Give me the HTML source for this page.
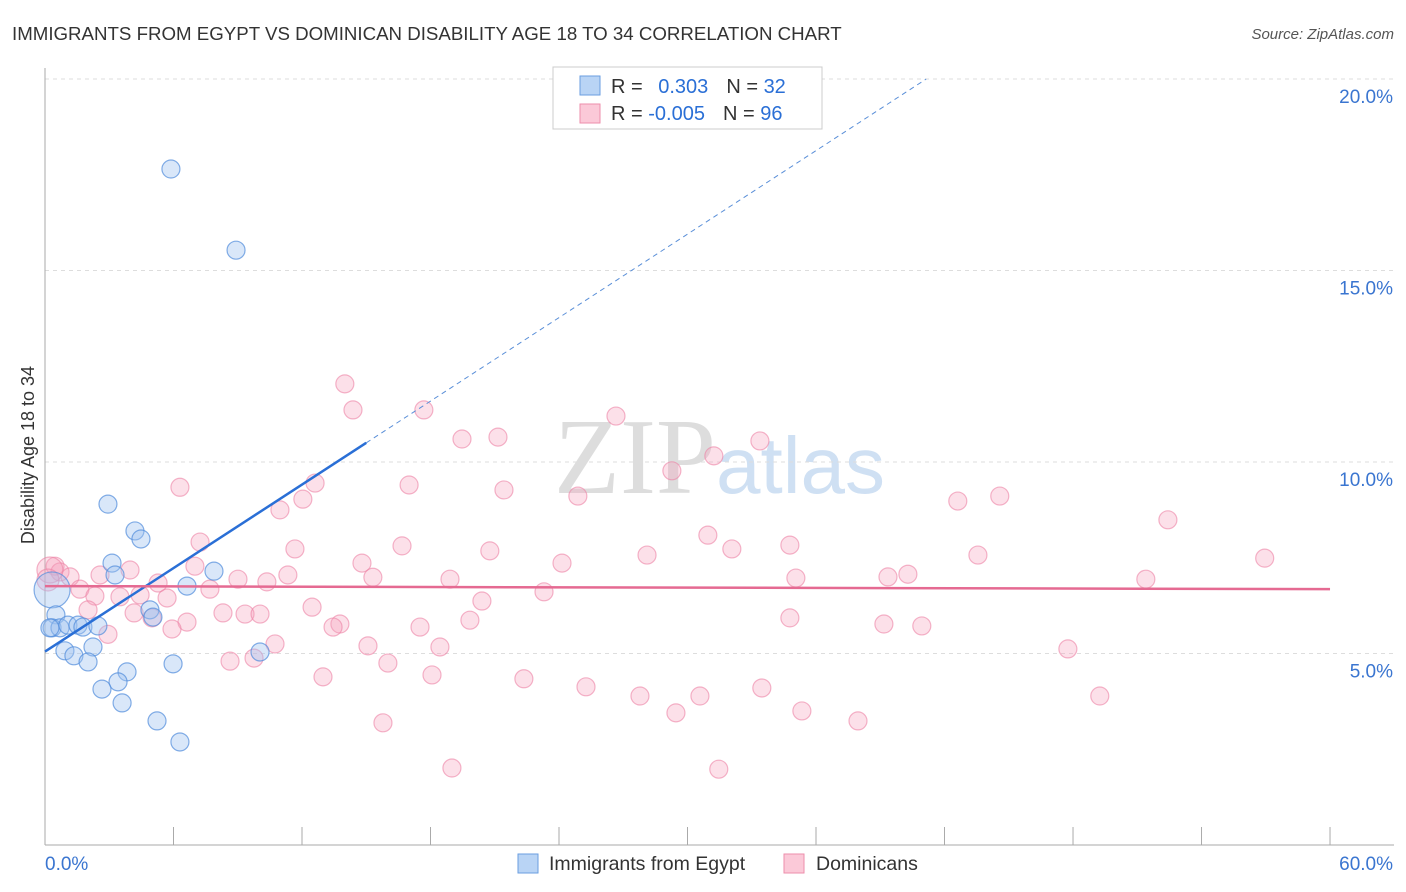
<!DOCTYPE html>
<html><head><meta charset="utf-8"><style>
body{margin:0;background:#fff;font-family:"Liberation Sans",sans-serif;}
#wrap{position:relative;width:1406px;height:892px;overflow:hidden}
</style></head><body>
<div id="wrap">
<svg id="svg" width="1406" height="892" xmlns="http://www.w3.org/2000/svg">
<text x="12" y="40" font-size="18.7" fill="#333">IMMIGRANTS FROM EGYPT VS DOMINICAN DISABILITY AGE 18 TO 34 CORRELATION CHART</text>
<text x="1394" y="39" font-size="15" fill="#555" font-style="italic" text-anchor="end">Source: ZipAtlas.com</text>
<text x="716" y="493" font-size="108" fill="#ddd" text-anchor="end" font-family="Liberation Serif">ZIP</text>
<text x="716" y="493" font-size="80" fill="#cfe0f3">atlas</text>
<text x="34" y="455" font-size="18" fill="#333" text-anchor="middle" transform="rotate(-90 34 455)">Disability Age 18 to 34</text>
<g id="grid"></g><g id="pts"></g><g id="lines"></g>
<g>
<rect x="553" y="67" width="269" height="62" fill="#fff" stroke="#ccc"/>
<rect x="580" y="76" width="20" height="19" fill="#b9d4f5" stroke="#6a9ee0"/>
<rect x="580" y="104" width="20" height="19" fill="#fbc9d8" stroke="#ee8eab"/>
<text x="611" y="93" font-size="20" fill="#333">R =  <tspan fill="#2a6fd6" dx="10">0.303</tspan><tspan dx="18" fill="#333">N = </tspan><tspan fill="#2a6fd6">32</tspan></text>
<text x="611" y="120" font-size="20" fill="#333">R = <tspan fill="#2a6fd6">-0.005</tspan><tspan dx="18" fill="#333">N = </tspan><tspan fill="#2a6fd6">96</tspan></text>
</g>
<g>
<rect x="518" y="854" width="20" height="19" fill="#b9d4f5" stroke="#6a9ee0"/>
<text x="549" y="870" font-size="19.5" fill="#333">Immigrants from Egypt</text>
<rect x="784" y="854" width="20" height="19" fill="#fbc9d8" stroke="#ee8eab"/>
<text x="816" y="870" font-size="19.5" fill="#333">Dominicans</text>
</g>
</svg></div>
<script>
const yTicks=[5,10,15,20];
const xTickLabels=["0.0%","60.0%"];
const egyptX=[5.88,8.92,2.94,4.2,4.48,3.13,3.27,7.89,6.63,0.33,0.51,4.9,5.04,0.33,0.7,1.07,1.54,1.77,2.47,2.24,0.93,1.35,2.01,5.98,10.04,3.83,3.41,2.66,3.6,5.23,6.3,0.23];
const egyptY=[17.65,15.53,8.9,8.2,7.99,7.36,7.05,7.15,6.76,6.66,6.01,6.14,5.95,5.67,5.67,5.74,5.74,5.69,5.72,5.17,5.07,4.94,4.78,4.73,5.04,4.52,4.26,4.07,3.71,3.24,2.69,5.67];
const domX=[14.0,14.38,17.69,26.66,19.47,21.15,33.38,31.23,29.27,6.3,17.0,12.61,21.43,24.88,42.62,44.58,10.97,12.04,52.43,30.95,7.24,16.67,11.67,20.77,32.07,34.78,43.56,28.11,24.14,56.95,14.8,7.0,15.31,18.91,11.34,35.06,39.36,40.29,51.4,0.47,0.7,1.17,3.97,2.57,5.28,9.01,10.36,1.63,2.33,3.5,4.44,5.7,7.7,20.4,23.3,12.47,4.16,5.0,8.31,9.34,10.04,2.01,19.84,13.77,13.45,6.63,5.93,17.51,2.94,34.78,39.17,40.94,10.74,15.08,18.44,47.76,8.64,9.76,16.01,12.98,18.07,22.36,25.26,27.78,30.58,33.47,49.25,29.46,35.34,37.96,15.78,19.0,31.46,0.23,0.14];
const domY=[12.04,11.36,11.36,11.2,10.6,10.65,10.55,10.16,9.77,9.34,9.4,9.45,9.27,9.11,8.98,9.11,8.75,9.03,8.49,8.09,7.91,7.81,7.73,7.68,7.73,7.83,7.57,7.57,7.36,7.49,7.36,7.28,6.99,6.94,7.05,6.97,7.0,7.07,6.94,7.28,7.13,7.0,7.18,7.05,6.84,6.94,6.87,6.68,6.5,6.48,6.53,6.45,6.68,6.37,6.61,6.21,6.06,5.93,6.06,6.03,6.03,6.14,5.87,5.77,5.69,5.82,5.64,5.69,5.5,5.93,5.77,5.72,5.25,5.2,5.17,5.12,4.8,4.88,4.75,4.39,4.44,4.34,4.13,3.89,3.89,4.1,3.89,3.45,3.5,3.24,3.19,2.01,1.98,7.18,6.92];
const egyptTrend=[0,5.05,15,10.5];
const domTrend=[0,6.76,60,6.68];
const X=v=>45+v*21.417, Y=v=>845-v*38.3;
const NS="http://www.w3.org/2000/svg";
function mk(p,t,a){const e=document.createElementNS(NS,t);for(const k in a)e.setAttribute(k,a[k]);p.appendChild(e);return e;}
const g=document.getElementById('grid');
yTicks.forEach(v=>{
 const l=mk(g,'line',{x1:45,x2:1394,y1:Y(v),y2:Y(v),stroke:'#ddd','stroke-dasharray':'4,4'});
 
 const t=mk(g,'text',{x:1393,y:Y(v)+24,'font-size':19,fill:'#3a75d0','text-anchor':'end'});t.textContent=v.toFixed(1)+'%';
 
});
const ax=mk(g,'line',{x1:45,x2:45,y1:68,y2:845,stroke:'#aaa'});

const bx=mk(g,'line',{x1:45,x2:1394,y1:845,y2:845,stroke:'#aaa'});

for(let i=0;i<=10;i++){const tk=mk(g,'line',{x1:X(i*6),x2:X(i*6),y1:827,y2:845,stroke:'#aaa'});
 }
[[0,45,'start'],[1,1393,'end']].forEach(([i,x,a])=>{const t=mk(g,'text',{x:x,y:870,'font-size':19,fill:'#3a75d0','text-anchor':a});t.textContent=xTickLabels[i];
 });
const P=document.getElementById('pts');
domX.forEach((x,i)=>{const r=(i>=93)?(i==93?13:11):9;const c=mk(P,'circle',{cx:X(x),cy:Y(domY[i]),r:r,fill:'rgba(246,160,188,0.32)',stroke:'rgba(236,130,165,0.6)','stroke-width':1.2});
 });
egyptX.forEach((x,i)=>{const r=(i==9)?18:9;const c=mk(P,'circle',{cx:X(x),cy:Y(egyptY[i]),r:r,fill:'rgba(160,196,240,0.4)',stroke:'rgba(80,140,220,0.7)','stroke-width':1.2});
 });
const L=document.getElementById('lines');
const sl=(egyptTrend[3]-egyptTrend[1])/(egyptTrend[2]-egyptTrend[0]);
const xe=(20-egyptTrend[1])/sl;
const d=mk(L,'line',{x1:X(egyptTrend[2]),y1:Y(egyptTrend[3]),x2:X(xe),y2:Y(20),stroke:'#5a8fd8','stroke-width':1,'stroke-dasharray':'5,4'});

const bl=mk(L,'line',{x1:X(egyptTrend[0]),y1:Y(egyptTrend[1]),x2:X(egyptTrend[2]),y2:Y(egyptTrend[3]),stroke:'#2a6fd6','stroke-width':2.5});

const pl=mk(L,'line',{x1:X(domTrend[0]),y1:Y(domTrend[1]),x2:X(domTrend[2]),y2:Y(domTrend[3]),stroke:'#e56a92','stroke-width':2.5});

</script>
</body></html>
